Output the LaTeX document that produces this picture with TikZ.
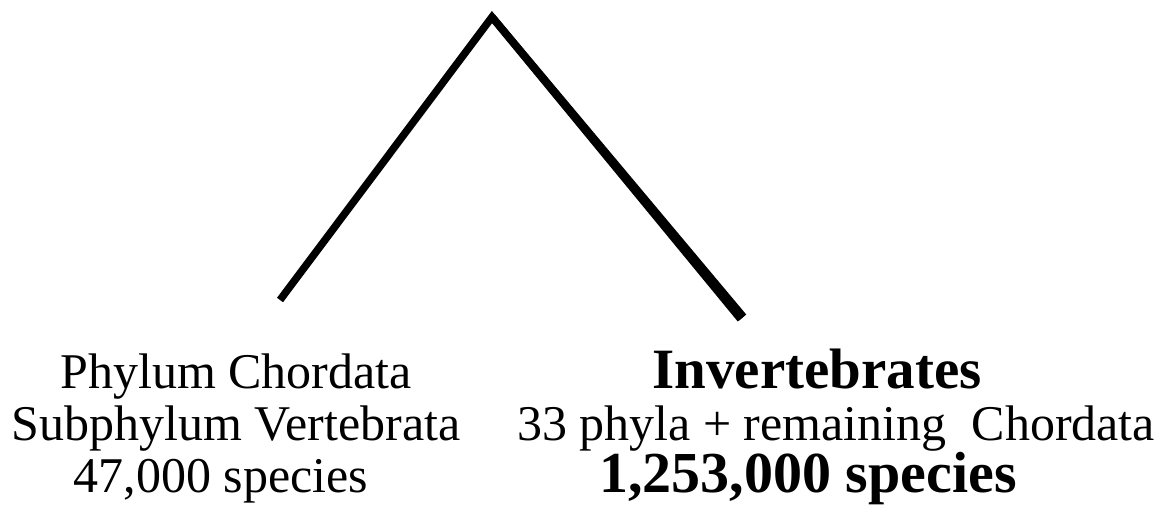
\documentclass[tikz,border=0pt]{standalone}
\usepackage{fontspec}
\setmainfont{Liberation Serif}
\usetikzlibrary{calc}
\begin{document}
\begin{tikzpicture}[x=1pt, y=-1pt,
  branch/.style={draw, line width=7.5pt, line join=miter},
  taxon/.style={align=center, inner sep=0pt, anchor=base,
    font=\fontsize{50}{52}\selectfont}
  ]
  \useasboundingbox (0,0) rectangle (1164,505);

  % tree
  \coordinate (root) at (492,17);
  \coordinate (vert) at (280,300);
  \coordinate (invert) at (742,318);
  \draw[branch] (vert) -- (root) -- (invert);
  \fill ($(root)!3.75pt!90:(invert)$) -- ($(invert)!5.5pt!-90:(root)$)
    -- ($(invert)!5.5pt!90:(root)$) -- ($(root)!3.75pt!-90:(invert)$) -- cycle;

  % labels (base = last line)
  \node[taxon] (chordata) at (236,492)
    {Phylum Chordata\\Subphylum Vertebrata\\47,000 species\hspace*{30pt}};
  \node[taxon] (invertebrates) at (836,492)
    {{\fontsize{57}{52}\selectfont\bfseries Invertebrates}\hspace*{38pt}\\
     33 phyla + remaining\ \ Chordata\\
     {\fontsize{58}{52}\selectfont\bfseries 1,253,000 species}\hspace*{56pt}};
\end{tikzpicture}
\end{document}
